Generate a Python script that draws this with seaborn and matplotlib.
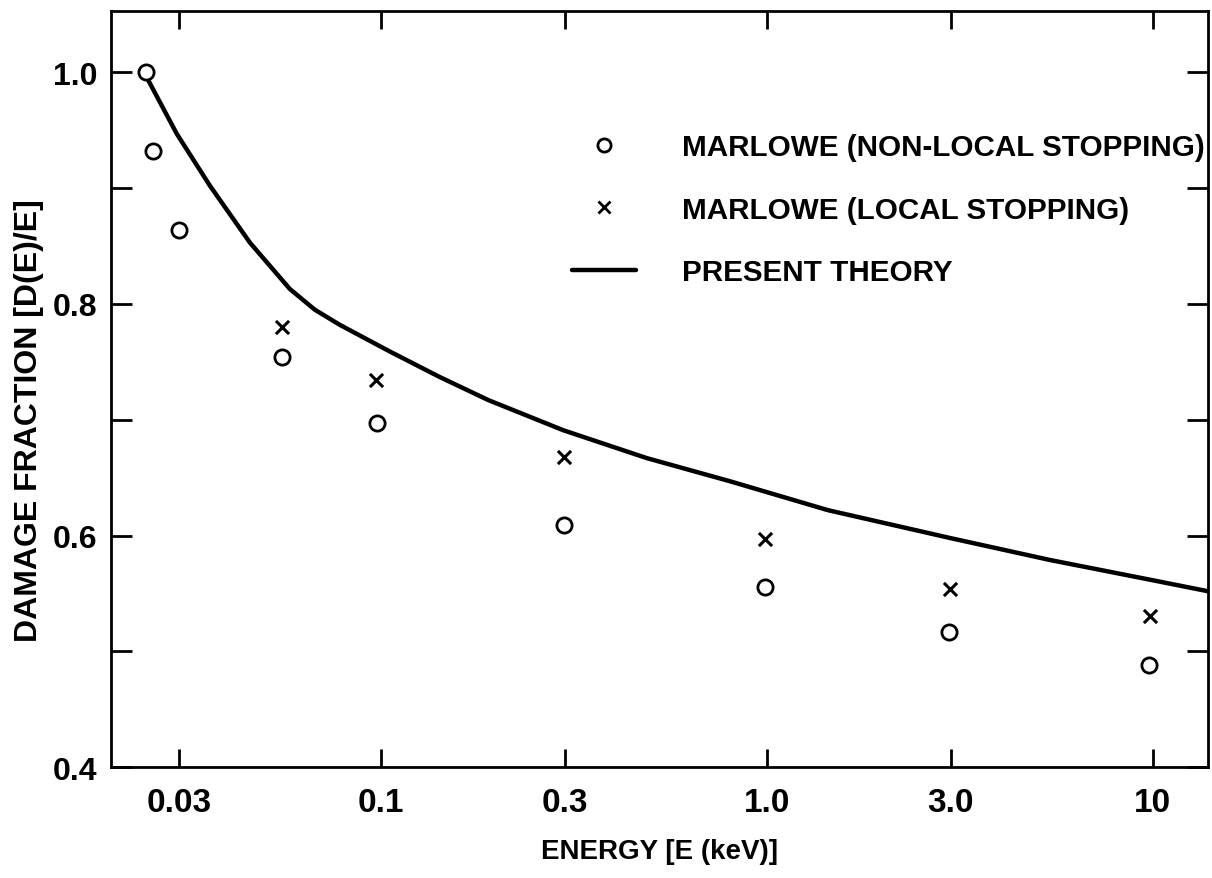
import numpy as np
import pandas as pd
import matplotlib
matplotlib.use("Agg")
import matplotlib.pyplot as plt
import seaborn as sns
from matplotlib.lines import Line2D
from matplotlib.ticker import FixedLocator, NullLocator, FixedFormatter

# ---- data ----
nonlocal_energy = [0.0247, 0.0257, 0.030, 0.0556, 0.098, 0.298, 0.99, 2.97, 9.8]
nonlocal_frac = [1.000, 0.932, 0.864, 0.754, 0.697, 0.609, 0.556, 0.517, 0.488]

local_energy = [0.0556, 0.097, 0.298, 0.99, 2.98, 9.83]
local_frac = [0.780, 0.734, 0.668, 0.597, 0.554, 0.531]

theory_energy = [0.0249, 0.0296, 0.0361, 0.0458, 0.0581, 0.0675, 0.0783, 0.1055, 0.142,
                 0.190, 0.297, 0.488, 0.802, 1.44, 2.98, 5.41, 9.82, 13.9]
theory_frac = [0.994, 0.947, 0.902, 0.853, 0.813, 0.795, 0.782, 0.759, 0.737,
               0.717, 0.691, 0.667, 0.647, 0.622, 0.598, 0.579, 0.562, 0.552]

xtick_vals = [0.03, 0.1, 0.3, 1.0, 3.0, 10]
xtick_labels = ["0.03", "0.1", "0.3", "1.0", "3.0", "10"]
ytick_major = [0.4, 0.6, 0.8, 1.0]
ytick_labels = ["0.4", "0.6", "0.8", "1.0"]
ytick_minor = [0.5, 0.7, 0.9]

legend_labels = ["MARLOWE (NON-LOCAL STOPPING)", "MARLOWE (LOCAL STOPPING)", "PRESENT THEORY"]

# ---- style ----
sns.set_theme(style="ticks")
plt.rcParams["font.family"] = ["Liberation Sans", "DejaVu Sans"]
plt.rcParams["font.weight"] = "bold"
for k in ["text.color", "axes.labelcolor", "xtick.color", "ytick.color", "axes.edgecolor"]:
    plt.rcParams[k] = "black"

fig = plt.figure(figsize=(12.12, 8.79), dpi=100)
W, H = 1212, 879
left, right, top, bottom = 111, 1208, 11.7, 768.3
ax = fig.add_axes([left / W, 1 - bottom / H, (right - left) / W, (bottom - top) / H])

df_nl = pd.DataFrame({"E": nonlocal_energy, "F": nonlocal_frac})
df_l = pd.DataFrame({"E": local_energy, "F": local_frac})
df_t = pd.DataFrame({"E": theory_energy, "F": theory_frac})

sns.lineplot(data=df_t, x="E", y="F", ax=ax, color="black", lw=3.2, sort=True,
             estimator=None, zorder=2)
sns.scatterplot(data=df_nl, x="E", y="F", ax=ax, marker="o", s=120,
                facecolor="white", edgecolor="black", linewidth=2.0, zorder=3)
sns.scatterplot(data=df_l, x="E", y="F", ax=ax, marker="x", s=90,
                color="black", linewidth=2.2, zorder=3)

ax.set_xscale("log")
ax.set_xlim(0.02, 13.9)
ax.set_ylim(0.4, 1.0532)

ax.xaxis.set_major_locator(FixedLocator(xtick_vals))
ax.xaxis.set_major_formatter(FixedFormatter(xtick_labels))
ax.xaxis.set_minor_locator(NullLocator())
ax.yaxis.set_major_locator(FixedLocator(ytick_major))
ax.yaxis.set_major_formatter(FixedFormatter(ytick_labels))
ax.yaxis.set_minor_locator(FixedLocator(ytick_minor))

for s in ax.spines.values():
    s.set_visible(True)
    s.set_linewidth(2.0)
    s.set_color("black")

ax.tick_params(axis="both", which="both", direction="in", top=True, right=True,
               width=2.0, color="black", labelcolor="black")
ax.tick_params(axis="y", which="both", length=15, pad=10)
ax.tick_params(axis="x", which="both", length=13, pad=14)

for lab in ax.get_yticklabels():
    lab.set_fontsize(23)
    lab.set_fontweight("bold")
for lab in ax.get_xticklabels():
    lab.set_fontsize(24)
    lab.set_fontweight("bold")

ax.set_xlabel("ENERGY [E (keV)]", fontsize=20, fontweight="bold", color="black")
ax.set_ylabel("DAMAGE FRACTION [D(E)/E]", fontsize=23, fontweight="bold", color="black")
ax.xaxis.set_label_coords(0.5, -0.093)
ax.yaxis.set_label_coords(-0.061, 0.46)

handles = [
    Line2D([], [], ls="none", marker="o", ms=9.5, mfc="white", mec="black", mew=2.0),
    Line2D([], [], ls="none", marker="x", ms=8, color="black", mew=2.0),
    Line2D([], [], color="black", lw=3.2),
]
leg = ax.legend(handles, legend_labels, loc="upper left", frameon=False,
                bbox_to_anchor=(572 / W, 1 - 134 / H), bbox_transform=fig.transFigure,
                prop={"family": "Liberation Sans", "weight": "bold", "size": 21.3},
                handlelength=2.16, handletextpad=1.55, labelspacing=1.17,
                borderpad=0, borderaxespad=0)
for t in leg.get_texts():
    t.set_color("black")

fig.savefig("out.png", dpi=100)
